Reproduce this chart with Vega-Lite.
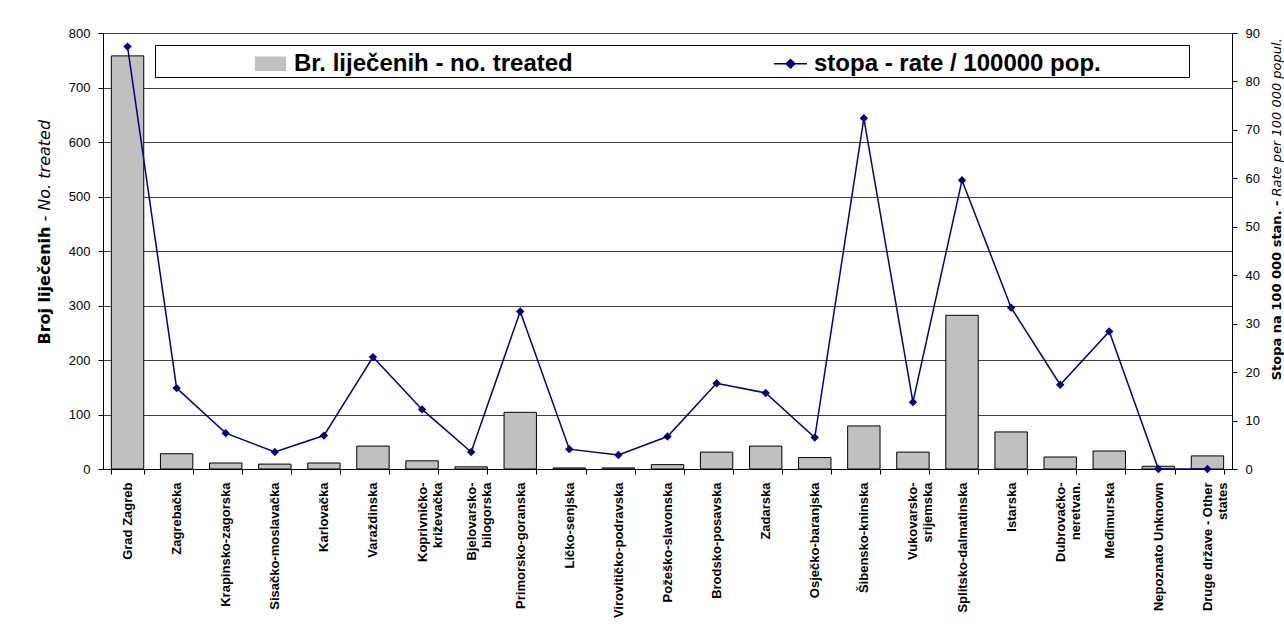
{
  "$schema": "https://vega.github.io/schema/vega-lite/v6.json",
  "width": 1129,
  "height": 436,
  "autosize": {"type": "none"},
  "padding": {"left": 103, "top": 33, "right": 52, "bottom": 165},
  "background": "#ffffff",
  "data": {
    "values": [
      {"region": "Grad Zagreb", "count": 758, "rate": 87.2},
      {"region": "Zagrebačka", "count": 28, "rate": 16.7},
      {"region": "Krapinsko-zagorska", "count": 11, "rate": 7.4},
      {"region": "Sisačko-moslavačka", "count": 9, "rate": 3.5},
      {"region": "Karlovačka", "count": 11, "rate": 6.9},
      {"region": "Varaždinska", "count": 42, "rate": 23.1},
      {"region": "Koprivničko-\nkriževačka", "count": 15, "rate": 12.3},
      {"region": "Bjelovarsko-\nbilogorska", "count": 4, "rate": 3.5},
      {"region": "Primorsko-goranska", "count": 104, "rate": 32.5},
      {"region": "Ličko-senjska", "count": 2, "rate": 4.1},
      {"region": "Virovitičko-podravska", "count": 2, "rate": 2.9},
      {"region": "Požeško-slavonska", "count": 8, "rate": 6.7},
      {"region": "Brodsko-posavska", "count": 31, "rate": 17.7},
      {"region": "Zadarska", "count": 42, "rate": 15.7},
      {"region": "Osječko-baranjska", "count": 21, "rate": 6.5},
      {"region": "Šibensko-kninska", "count": 79, "rate": 72.4},
      {"region": "Vukovarsko-\nsrijemska", "count": 31, "rate": 13.8},
      {"region": "Splitsko-dalmatinska", "count": 282, "rate": 59.6},
      {"region": "Istarska", "count": 68, "rate": 33.3},
      {"region": "Dubrovačko-\nneretvan.", "count": 22, "rate": 17.4},
      {"region": "Međimurska", "count": 33, "rate": 28.4},
      {"region": "Nepoznato Unknown", "count": 5, "rate": 0},
      {"region": "Druge države - Other\nstates", "count": 24, "rate": 0}
    ]
  },
  "encoding": {
    "x": {
      "field": "region",
      "type": "nominal",
      "sort": null,
      "scale": {"paddingInner": 0.34, "paddingOuter": 0.17},
      "axis": {
        "title": null,
        "labelAngle": 270,
        "labelFont": "Liberation Sans",
        "labelFontSize": 13,
        "labelFontWeight": "bold",
        "labelColor": "#000000",
        "labelPadding": 8,
        "labelLimit": 300,
        "labelExpr": "split(datum.label, '\\n')",
        "tickBand": "extent",
        "tickSize": 5,
        "tickColor": "#000000",
        "domainColor": "#000000",
        "grid": false
      }
    }
  },
  "layer": [
    {
      "mark": {"type": "bar"},
      "encoding": {
        "y": {
          "field": "count",
          "type": "quantitative",
          "scale": {"domain": [0, 800], "nice": false},
          "axis": {
            "orient": "left",
            "values": [0, 100, 200, 300, 400, 500, 600, 700, 800],
            "grid": true,
            "gridColor": "#404040",
            "gridWidth": 1,
            "tickSize": 5,
            "tickColor": "#000000",
            "domainColor": "#000000",
            "labelFont": "Liberation Sans",
            "labelFontSize": 13,
            "labelColor": "#000000",
            "labelPadding": 8,
            "title": "Broj liječenih",
            "titleFont": "DejaVu Sans",
            "titleFontSize": 16,
            "titleFontWeight": "bold",
            "titleColor": "#000000",
            "titleAngle": 270,
            "titleAlign": "right",
            "titleBaseline": "alphabetic",
            "titleX": -54,
            "titleY": 193
          }
        },
        "color": {
          "datum": "Br. liječenih - no. treated",
          "scale": {
            "domain": ["Br. liječenih - no. treated", "stopa - rate / 100000 pop."],
            "range": ["#c0c0c0", "#000080"]
          },
          "legend": {
            "orient": "none",
            "legendX": 52,
            "legendY": 12,
            "direction": "horizontal",
            "columnPadding": 198,
            "title": "\u00a0",
            "titleOrient": "left",
            "titleFontSize": 1,
            "titlePadding": 97,
            "padding": 1,
            "fillColor": "#ffffff",
            "strokeColor": "#000000",
            "labelFont": "Liberation Sans",
            "labelFontSize": 24,
            "labelFontWeight": "bold",
            "labelColor": "#000000",
            "labelOffset": 6,
            "labelLimit": 700,
            "symbolSize": 1089,
            "labelExpr": "datum.value == 'stopa - rate / 100000 pop.' ? datum.label + '\u00a0\u00a0\u00a0\u00a0\u00a0\u00a0\u00a0\u00a0\u00a0\u00a0\u00a0\u00a0\u00a0\u200b' : datum.label",
            "encode": {
              "symbols": {
                "update": {
                  "shape": {"signal": "datum.value == 'stopa - rate / 100000 pop.' ? 'M-1,0H1M-0.26,0L0,-0.26L0.26,0L0,0.26Z' : 'M-0.9,-0.4H0.9V0.4H-0.9Z'"},
                  "fill": {"signal": "datum.value == 'stopa - rate / 100000 pop.' ? '#000080' : '#c0c0c0'"},
                  "stroke": {"signal": "datum.value == 'stopa - rate / 100000 pop.' ? '#000080' : '#000000'"},
                  "strokeWidth": {"value": 1.5},
                  "opacity": {"value": 1},
                  "fillOpacity": {"value": 1},
                  "size": {"value": 1089}
                }
              }
            }
          }
        }
      }
    },
    {
      "mark": {"type": "bar", "fill": "transparent", "stroke": "#000000", "strokeWidth": 1},
      "encoding": {
        "y": {
          "field": "count",
          "type": "quantitative",
          "scale": {"domain": [0, 800], "nice": false},
          "axis": {
            "orient": "left",
            "domain": false,
            "ticks": false,
            "labels": false,
            "grid": false,
            "title": "- No. treated",
            "titleFont": "DejaVu Sans",
            "titleFontSize": 16,
            "titleFontWeight": "normal",
            "titleFontStyle": "italic",
            "titleColor": "#000000",
            "titleAngle": 270,
            "titleAlign": "left",
            "titleBaseline": "alphabetic",
            "titleX": -54,
            "titleY": 188
          }
        }
      }
    },
    {
      "mark": {"type": "line", "strokeWidth": 1.5},
      "encoding": {
        "y": {
          "field": "rate",
          "type": "quantitative",
          "scale": {"domain": [0, 90], "nice": false},
          "axis": {
            "orient": "right",
            "values": [0, 10, 20, 30, 40, 50, 60, 70, 80, 90],
            "grid": false,
            "tickSize": 5,
            "tickColor": "#000000",
            "domainColor": "#000000",
            "labelFont": "Liberation Sans",
            "labelFontSize": 13,
            "labelColor": "#000000",
            "labelPadding": 8,
            "title": "Stopa na 100 000 stan. -",
            "titleFont": "DejaVu Sans",
            "titleFontSize": 13,
            "titleFontWeight": "bold",
            "titleColor": "#000000",
            "titleAngle": 270,
            "titleAlign": "right",
            "titleBaseline": "alphabetic",
            "titleX": 48,
            "titleY": 167
          }
        },
        "color": {"datum": "stopa - rate / 100000 pop."}
      }
    },
    {
      "mark": {"type": "point", "shape": "diamond", "filled": true, "size": 70, "color": "#000080", "opacity": 1},
      "encoding": {
        "y": {
          "field": "rate",
          "type": "quantitative",
          "scale": {"domain": [0, 90], "nice": false},
          "axis": {
            "orient": "right",
            "domain": false,
            "ticks": false,
            "labels": false,
            "grid": false,
            "title": "Rate per 100 000 popul.",
            "titleFont": "DejaVu Sans",
            "titleFontSize": 13,
            "titleFontWeight": "normal",
            "titleFontStyle": "italic",
            "titleColor": "#000000",
            "titleAngle": 270,
            "titleAlign": "left",
            "titleBaseline": "alphabetic",
            "titleX": 48,
            "titleY": 163
          }
        }
      }
    }
  ],
  "resolve": {"scale": {"y": "independent"}},
  "config": {
    "view": {"stroke": "#808080"},
    "axis": {"domainWidth": 1, "tickWidth": 1}
  }
}
